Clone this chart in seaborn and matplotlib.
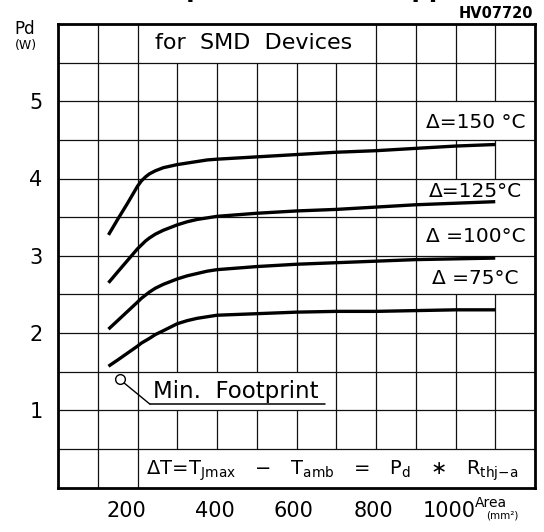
import numpy as np
import pandas as pd
import matplotlib
matplotlib.use("Agg")
import matplotlib.pyplot as plt
import matplotlib.transforms as mtransforms
from matplotlib.patches import Rectangle
import seaborn as sns

# Copper area (mm^2) sampled along each curve
area = [127, 150, 175, 200, 210, 220, 230, 245, 265, 300, 325, 350, 375, 400,
        500, 600, 700, 800, 900, 1000, 1100]

# Permissible dissipation Pd (W) for each temperature rise
pd_150 = [3.27, 3.47, 3.68, 3.90, 3.97, 4.02, 4.06, 4.10, 4.14, 4.18, 4.20, 4.22, 4.24, 4.25,
          4.28, 4.31, 4.34, 4.36, 4.39, 4.42, 4.44]
pd_125 = [2.65, 2.79, 2.94, 3.09, 3.14, 3.19, 3.23, 3.28, 3.33, 3.40, 3.44, 3.47, 3.49, 3.51,
          3.55, 3.58, 3.60, 3.63, 3.66, 3.68, 3.70]
pd_100 = [2.05, 2.16, 2.28, 2.40, 2.45, 2.49, 2.53, 2.58, 2.63, 2.70, 2.74, 2.77, 2.80, 2.82,
          2.86, 2.89, 2.91, 2.93, 2.95, 2.96, 2.97]
pd_75 = [1.57, 1.65, 1.74, 1.83, 1.87, 1.90, 1.93, 1.98, 2.03, 2.12, 2.16, 2.19, 2.21, 2.23,
         2.25, 2.27, 2.28, 2.28, 2.29, 2.30, 2.30]

delta_labels = ["\u0394=150 \u00b0C", "\u0394=125\u00b0C", "\u0394 =100\u00b0C", "\u0394 =75\u00b0C"]
x_ticks = [200, 400, 600, 800, 1000]
y_ticks = [1, 2, 3, 4, 5]

df = pd.concat([
    pd.DataFrame({"area": area, "pd": vals, "dT": name})
    for name, vals in [("150", pd_150), ("125", pd_125), ("100", pd_100), ("75", pd_75)]
])

sns.set_theme(style="white")
plt.rcParams["font.family"] = ["DejaVu Sans"]
plt.rcParams["mathtext.fontset"] = "dejavusans"
plt.rcParams["text.color"] = "black"

fig = plt.figure(figsize=(5.44, 5.32), dpi=100)
ax = fig.add_axes([58 / 544, 1 - 487.5 / 532, (535 - 58) / 544, (487.5 - 24) / 532])
ax.set_xlim(0, 1200)
ax.set_ylim(0, 6)

# grid: vertical lines sit under the white label panels, horizontal ones above
ax.vlines(np.arange(100, 1200, 100), 0, 6, color="#111111", lw=0.9, zorder=1)
panels = [(210, 5.5, 580, 0.5), (212, 1.0, 478, 0.5), (210, 0.0, 990, 0.5),
          (912, 4.5, 288, 0.5), (912, 3.5, 288, 0.5), (912, 3.0, 288, 0.5), (912, 2.5, 288, 0.5)]
for x0, y0, w, h in panels:
    ax.add_patch(Rectangle((x0, y0), w, h, facecolor="white", edgecolor="none", zorder=2))
ax.hlines(np.arange(0.5, 6, 0.5), 0, 1200, color="#111111", lw=0.9, zorder=3)

sns.lineplot(data=df, x="area", y="pd", units="dT", estimator=None, sort=False,
             color="black", linewidth=2.4, ax=ax, legend=False, zorder=4)
for ln in ax.get_lines():
    ln.set_solid_capstyle("butt")
    ln.set_solid_joinstyle("round")

for s in ax.spines.values():
    s.set_visible(True)
    s.set_color("black")
    s.set_linewidth(2.0)
    s.set_zorder(6)

ax.set_xlabel("")
ax.set_ylabel("")
ax.set_xticks(x_ticks)
ax.set_xticklabels([str(v) for v in x_ticks])
ax.set_yticks(y_ticks)
ax.set_yticklabels([str(v) for v in y_ticks])
ax.tick_params(axis="both", length=0, labelsize=15, colors="black")
ax.tick_params(axis="x", pad=10)
ax.tick_params(axis="y", pad=11)
shifts = [-11, -2, -3, -3, -6]
for lab, dx in zip(ax.get_xticklabels(), shifts):
    lab.set_transform(lab.get_transform() + mtransforms.ScaledTranslation(dx / 100, 0, fig.dpi_scale_trans))

# temperature-rise labels at the right end of the curves
for txt, y in zip(delta_labels, [4.72, 3.83, 3.25, 2.70]):
    ax.text(1050, y, txt, ha="center", va="center", fontsize=14.5, zorder=7)

ax.text(492, 5.75, "for  SMD  Devices", ha="center", va="center", fontsize=16, zorder=7)

# minimum footprint callout
ax.text(238, 1.245, "Min.  Footprint", ha="left", va="center", fontsize=16.5, zorder=7)
ax.plot([231, 672], [1.08, 1.08], color="black", lw=1.1, zorder=7)
ax.plot([160, 231], [1.38, 1.08], color="black", lw=1.0, zorder=7)
ax.plot([156], [1.40], marker="o", ms=7, mfc="white", mec="black", mew=1.0, zorder=8)

ax.text(222, 0.16,
        r"$\Delta\mathrm{T\!=\!T}_{\mathrm{Jmax}}\;\;\;-\;\;\;\mathrm{T}_{\mathrm{amb}}\;\;\;=\;\;\;"
        r"\mathrm{P}_{\mathrm{d}}\;\;\;\ast\;\;\;\mathrm{R}_{\mathrm{thj{-}a}}$",
        ha="left", va="baseline", fontsize=14, zorder=7)

# axis captions and drawing reference
fig.text(25 / 544, 1 - 29 / 532, "Pd", ha="center", va="center", fontsize=12)
fig.text(26 / 544, 1 - 45.5 / 532, "(W)", ha="center", va="center", fontsize=9)
fig.text(491 / 544, 1 - 503 / 532, "Area", ha="center", va="center", fontsize=10)
fig.text(502 / 544, 1 - 515 / 532, "(mm\u00b2)", ha="center", va="center", fontsize=7.5)
fig.text(496 / 544, 1 - 13 / 532, "HV07720", ha="center", va="center", fontsize=10.5, fontweight="bold")
fig.text(287 / 544, 1 + 2.5 / 532, "Power dissipation versus copper area",
         ha="center", va="baseline", fontsize=17.5, fontweight="bold")

fig.savefig("out.png", dpi=100)
